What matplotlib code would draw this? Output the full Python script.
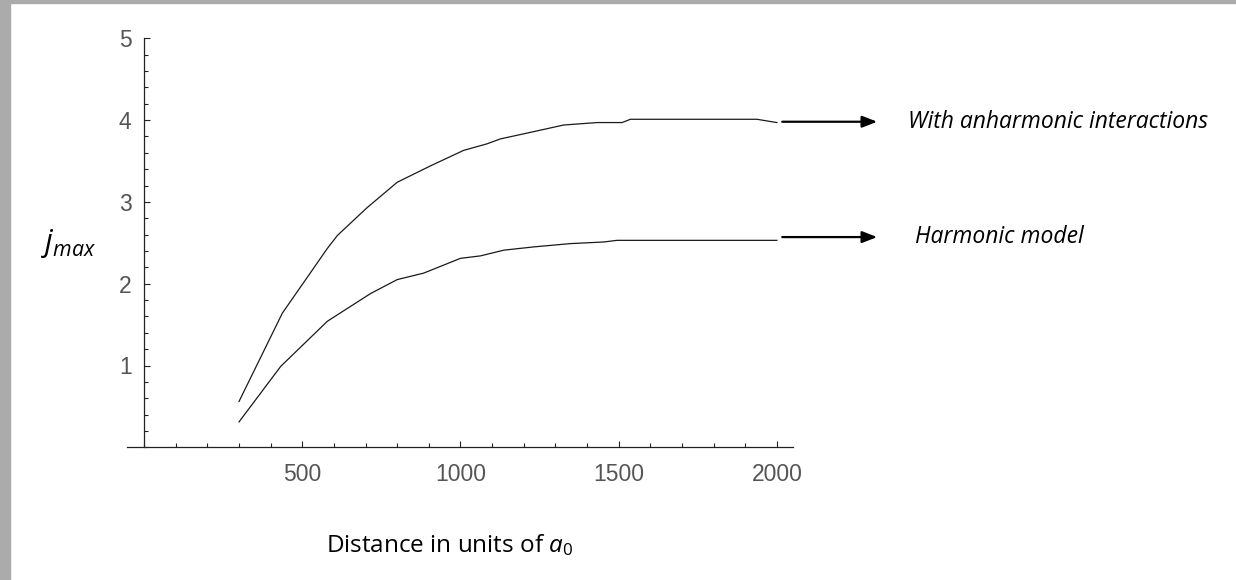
import matplotlib
matplotlib.use("Agg")
import matplotlib.pyplot as plt
from matplotlib.patches import Rectangle
from matplotlib.ticker import MultipleLocator

# anharmonic curve (upper)
dist_anh = [300, 437, 579, 611, 705, 800, 905, 1010, 1084, 1126, 1221, 1326, 1432, 1511, 1537, 1937, 2000]
jmax_anh = [0.56, 1.64, 2.43, 2.59, 2.93, 3.24, 3.44, 3.63, 3.71, 3.77, 3.85, 3.94, 3.97, 3.97, 4.01, 4.01, 3.97]

# harmonic curve (lower)
dist_harm = [300, 432, 579, 716, 800, 884, 1000, 1063, 1137, 1232, 1347, 1453, 1495, 2000]
jmax_harm = [0.31, 0.99, 1.54, 1.88, 2.05, 2.13, 2.31, 2.34, 2.41, 2.45, 2.49, 2.51, 2.53, 2.53]

x_major = [500, 1000, 1500, 2000]
y_major = [1, 2, 3, 4, 5]

labels = ["With anharmonic interactions", "Harmonic model"]
label_y = [3.98, 2.57]
label_x = [2415, 2437]

plt.rcParams['mathtext.fontset'] = 'custom'
plt.rcParams['mathtext.it'] = 'Open Sans:italic'
plt.rcParams['mathtext.rm'] = 'Open Sans'

W, H = 1236, 580
fig = plt.figure(figsize=(W / 100, H / 100), dpi=100)
fig.patch.set_facecolor('white')

# grey slide border visible on the left and top
fig.patches.append(Rectangle((0, 0), 10 / W, 1, transform=fig.transFigure, color='#ababab', zorder=0))
fig.patches.append(Rectangle((0, 1 - 3 / H), 1, 3 / H, transform=fig.transFigure, color='#ababab', zorder=0))

ax = fig.add_axes([127 / W, (H - 447.3) / H, 666 / W, 409 / H])
ax.set_xlim(-54, 2051)
ax.set_ylim(0, 5)

ax.plot(dist_anh, jmax_anh, color='#1a1a1a', lw=0.9)
ax.plot(dist_harm, jmax_harm, color='#1a1a1a', lw=0.9)

ax.spines['top'].set_visible(False)
ax.spines['right'].set_visible(False)
ax.spines['left'].set_position(('data', 0))
ax.spines['bottom'].set_position(('data', 0))
for s in ('left', 'bottom'):
    ax.spines[s].set_linewidth(0.9)
    ax.spines[s].set_color('#222222')

ax.set_xticks(x_major)
ax.set_yticks(y_major)
ax.xaxis.set_minor_locator(MultipleLocator(100))
ax.yaxis.set_minor_locator(MultipleLocator(0.2))
ax.tick_params(which='both', direction='in', color='#222222', width=0.8)
ax.tick_params(which='major', length=4.5)
ax.tick_params(which='minor', length=3)
ax.tick_params(axis='x', which='major', pad=11)
ax.tick_params(axis='y', which='major', pad=9)
for lab in ax.get_xticklabels() + ax.get_yticklabels():
    lab.set_fontfamily('Liberation Sans')
    lab.set_fontsize(16.5)
    lab.set_color('#555555')

# arrows pointing to the curve labels
for txt, xv, yv in zip(labels, label_x, label_y):
    ax.annotate('', xy=(2317, yv), xytext=(2017, yv), xycoords='data',
                annotation_clip=False,
                arrowprops=dict(arrowstyle='-|>,head_length=0.9,head_width=0.35',
                                color='black', lw=1.6, shrinkA=0, shrinkB=0))
    ax.text(xv, yv, txt, fontfamily='Open Sans', style='italic', fontsize=16.5,
            va='center', ha='left', clip_on=False)

fig.text(450 / W, (H - 545) / H, r'Distance in units of $a_{\mathit{0}}$',
         fontfamily='Open Sans', fontsize=17.5, ha='center', va='center')
fig.text(69 / W, (H - 243) / H, r'$j_{max}$', fontsize=22, ha='center', va='center')

fig.savefig('out.png', dpi=100)
